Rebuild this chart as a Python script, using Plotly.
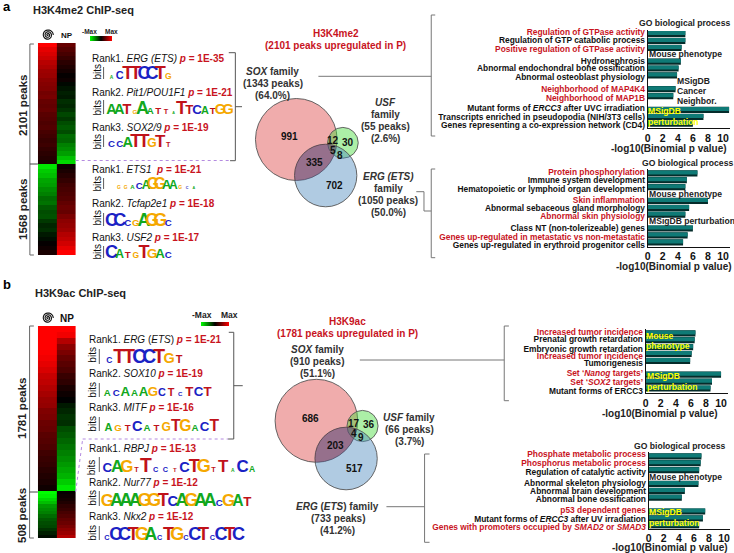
import math
import numpy as np
import plotly.graph_objects as go

W, H = 734, 553
RED = "#c8141e"
FONT = "Liberation Sans"
DARK = "#222222"
GREY = "#777777"
PURPLE = "#b48be0"
YEL = "#ffff00"

# ---------- heatmap data (signal, -1 = green, +1 = red), top row first ----------
a_peaks = [2101, 1568]
a_p_top = [1,.9,.85,.8,.72,.68,.62,.6,.55,.52,.5,.45,.47,.4,.38,.4,.35,.33,.3,.32,.28,.25,.22,.24,.2,.17,.14,.1]
a_np_top = [.4,.33,.28,.22,.17,.12,.08,.02,.05,-.03,-.08,-.12,-.1,-.18,-.15,-.2,-.28,-.22,-.3,-.35,-.3,-.42,-.4,-.5,-.55,-.62,-.75,-.85]
a_p_bot = [-.9,-.8,-.75,-.65,-.62,-.55,-.5,-.42,-.45,-.35,-.3,-.32,-.22,-.15,-.18,-.1,-.05,.02,.06,.1]
a_np_bot = [.05,.1,.15,.2,.25,.28,.3,.33,.38,.42,.4,.48,.55,.58,.62,.7,.75,.82,.9,1]
b_peaks = [1781, 508]
b_p_top = [1,1,1,1,.98,.95,.9,.85,.78,.75,.7,.65,.6,.58,.5,.48,.42,.4,.35,.33,.3,.25,.22,.2,.16,.13,.1,.06]
b_np_top = [1,.95,.7,.55,.48,.4,.35,.3,.22,.18,.1,.05,0,-.1,-.15,-.2,-.18,-.3,-.35,-.4,-.45,-.5,-.55,-.6,-.65,-.7,-.8,-.9]
b_p_bot = [-1,-.95,-.85,-.75,-.6,-.55,-.5,-.42,-.35,-.3,-.28,-.2,-.12,-.05]
b_np_bot = [.02,.05,.08,.12,.18,.22,.28,.32,.38,.42,.48,.55,.6,.7]
heat_columns = ["P", "NP"]

# ---------- enrichment bars ("" / None = gap between term groups) ----------
a1_terms = ["r|Regulation of GTPase activity", "Regulation of GTP catabolic process", "r|Positive regulation of GTPase activity", "",
            "Hydronephrosis", "Abnormal endochondral bone ossification", "Abnormal osteoblast physiology", "",
            "r|Neighborhood of MAP4K4", "r|Neighborhood of MAP1B", "",
            "Mutant forms of <i>ERCC3</i> after UVC irradiation", "Transcripts enriched in pseudopodia (NIH/3T3 cells)", "Genes representing a co-expression network (CD4)"]
a1_vals = [5.0, 5.0, 4.5, None, 4.4, 4.1, 3.9, None, 3.7, 3.4, None, 10.8, 7.4, 6.0]
a2_terms = ["r|Protein phosphorylation", "Immune system development", "Hematopoietic or lymphoid organ development", "",
            "r|Skin inflammation", "Abnormal sebaceous gland morphology", "r|Abnormal skin physiology", "",
            "Class NT (non-tolerizeable) genes", "r|Genes up-regulated in metastatic vs non-metastatic", "Genes up-regulated in erythroid progenitor cells"]
a2_vals = [6.6, 5.2, 5.0, None, 8.0, 5.5, 5.0, None, 6.0, 5.3, 4.7]
b1_terms = ["r|Increased tumor incidence", "Prenatal growth retardation", "Embryonic growth retardation", "r|Increased tumor incidence", "Tumorigenesis", "",
            "r|Set ‘<i>Nanog</i> targets’", "r|Set ‘<i>SOX2</i> targets’", "Mutant forms of ERCC3"]
b1_vals = [6.6, 6.5, 6.3, 6.1, 5.9, None, 10.0, 8.8, 8.6]
b2_terms = ["r|Phosphate metabolic process", "r|Phosphorus metabolic process", "Regulation of catalytic activity", "",
            "Abnormal skeleton physiology", "Abnormal brain development", "Abnormal bone ossification", "",
            "r|p53 dependent genes", "Mutant forms of <i>ERCC3</i> after UV irradiation", "r|Genes with promoters occupied by <i>SMAD2</i> or <i>SMAD3</i>"]
b2_vals = [7.0, 6.9, 6.7, None, 6.6, 4.8, 4.4, None, 7.5, 7.2, 6.7]
x_ticks = [0, 2, 4, 6, 8, 10]

# ---------- motif logos: letters and relative letter heights ----------
logo_a = [("ACTTCCTG", [2,7,13,13,13,13,13,5]),
          ("AATGAATTATTCATGG", [10,10,10,3,13,6,6,4,1,13,9,9,7,6,10,10]),
          ("CCATTGTT", [6,6,10,13,13,8,12,4]),
          ("GGACAGGAAGCA", [2,2,3,6,8,11,11,9,8,2,1,1]),
          ("CCCGAGGC", [13,13,6,6,13,13,13,6]),
          ("CATGTGAC", [13,8,6,5,13,9,9,6])]
logo_b = [("CTTCCTGT", [5,14,14,14,14,14,10,7]),
          ("ACAAAGCTCTCT", [6,6,9,6,9,9,7,7,3,9,9,9]),
          ("AGTCATGTGACT", [7,6,6,10,6,6,8,11,11,6,9,11]),
          ("CAGTTCCTCTGTTACA", [9,12,12,4,14,4,4,3,10,13,13,4,12,2,12,5]),
          ("GAAAGGTCAGAACGAT", [12,13,13,13,13,13,13,10,13,13,13,13,6,12,11,9]),
          ("CCCTGACTGCCTCCTC", [4,13,13,13,13,13,4,13,13,4,13,13,4,13,13,13])]
logo_colors = {"A": "#12a81e", "C": "#1a22c4", "G": "#f5a800", "T": "#c0121a"}

# rank labels
rank_a = [("Rank1. <i>ERG (ETS)</i>", "1E-35"), ("Rank2. <i>Pit1/POU1F1</i>", "1E-21"), ("Rank3. <i>SOX2/9</i>", "1E-19"),
          ("Rank1. <i>ETS1</i> ", "1E-21"), ("Rank2. <i>Tcfap2e1</i>", "1E-18"), ("Rank3. <i>USF2</i>", "1E-17")]
rank_b = [("Rank1. <i>ERG</i> (<i>ETS</i>)", "1E-21"), ("Rank2. <i>SOX10</i>", "1E-19"), ("Rank3. <i>MITF</i>", "1E-16"),
          ("Rank1. <i>RBPJ</i>", "1E-13"), ("Rank2. <i>Nur77</i>", "1E-12"), ("Rank3. <i>Nkx2</i>", "1E-12")]

# venn counts
venn_a = ["991", "12", "30", "5", "8", "335", "702"]
venn_b = ["686", "17", "36", "4", "9", "203", "517"]

# ---------- layout geometry (pixels) ----------
a1_label_px = [32, 40, 49, 61, 68.5, 76.7, 88.7, 98.3, 108.3, 116.7, 125]
a2_label_px = [172.3, 180.3, 189.3, 200, 207.7, 215.7, 228.3, 236.7, 244.7]
b1_label_px = [331.7, 339.3, 348.7, 355.7, 363.3, 373.3, 382.3, 391.3]
b2_label_px = [453.7, 463, 472, 482.7, 490.7, 499, 509.7, 518.7, 527.3]

def px(x): return x / W
def py(y): return 1 - y / H

fig = go.Figure()
layout = dict(
    width=W, height=H, margin=dict(l=0, r=0, t=0, b=0), showlegend=False,
    paper_bgcolor="white", plot_bgcolor="rgba(0,0,0,0)",
    font=dict(family=FONT, color=DARK),
    xaxis=dict(domain=[0, 1], range=[0, W], visible=False, fixedrange=True),
    yaxis=dict(domain=[0, 1], range=[H, 0], visible=False, fixedrange=True),
)
annotations, shapes = [], []
axis_no = [1]

def new_axes():
    axis_no[0] += 1
    return axis_no[0]

def note(x, y, text, size=9.5, color=DARK, bold=True, anchor="center", angle=0):
    annotations.append(dict(x=x, y=y, xref="x", yref="y", text=f"<b>{text}</b>" if bold else text,
                            showarrow=False, xanchor=anchor, yanchor="middle", textangle=angle,
                            font=dict(size=size, color=color, family=FONT), borderpad=0, borderwidth=0))

def seg(pts, color=GREY, width=1.0, dash=None):
    for (x0, y0), (x1, y1) in zip(pts[:-1], pts[1:]):
        shapes.append(dict(type="line", xref="x", yref="y", x0=x0, y0=y0, x1=x1, y1=y1,
                           line=dict(color=color, width=width, dash=dash or "solid")))

def heat(p_top, np_top, p_bot, np_bot, peaks, x0, x1, y0, y1, cb):
    n = new_axes()
    z = [list(r) for r in zip(p_top + p_bot, np_top + np_bot)]
    edges = list(np.linspace(0, peaks[0], len(p_top) + 1)) + list(np.linspace(peaks[0], sum(peaks), len(p_bot) + 1))[1:]
    fig.add_trace(go.Heatmap(z=z, x=heat_columns, y=edges, zmin=-1, zmax=1, xaxis=f"x{n}", yaxis=f"y{n}",
                             colorscale=[[0, "#00ff00"], [.5, "#000000"], [1, "#ff0000"]], hoverinfo="skip",
                             showscale=True,
                             colorbar=dict(orientation="h", x=px(cb[0]), y=py(cb[2]), xanchor="left", yanchor="top",
                                           len=cb[1] - cb[0], lenmode="pixels", thickness=cb[3] - cb[2],
                                           thicknessmode="pixels", showticklabels=False, ticks="", outlinewidth=0,
                                           xpad=0, ypad=0)))
    layout[f"xaxis{n}"] = dict(domain=[px(x0), px(x1)], visible=False, anchor=f"y{n}", fixedrange=True)
    layout[f"yaxis{n}"] = dict(domain=[py(y1), py(y0)], visible=False, anchor=f"x{n}", range=[sum(peaks), 0], fixedrange=True)

def bars(terms, vals, label_px, x0, x1, y0, bottom, s=6.9, scale=7.57, label_size=8.4):
    n = new_axes()
    idx = list(range(len(terms)))
    for color, w, off in (("#052c2b", .90, -.45), ("#0f7a76", .58, -.42)):
        fig.add_trace(go.Bar(x=vals, y=idx, orientation="h", width=w, offset=off, marker=dict(color=color, line_width=0),
                             xaxis=f"x{n}", yaxis=f"y{n}", hoverinfo="skip"))
    text = []
    for t in terms:
        if t.startswith("r|"):
            text.append(f"<span style='color:{RED}'><b>{t[2:]}</b></span>")
        elif t:
            text.append(f"<b>{t}</b>")
    top = y0 - .6 * s
    layout[f"xaxis{n}"] = dict(domain=[px(x0), px(x1)], range=[0, (x1 - x0) / scale], anchor=f"y{n}", tickvals=x_ticks,
                               tickfont=dict(size=10.5, color="#111111", weight="bold"), showgrid=False, zeroline=False,
                               showline=True, linecolor="#111111", linewidth=1, ticks="", fixedrange=True)
    layout[f"yaxis{n}"] = dict(domain=[py(bottom), py(top)], range=[(bottom - y0) / s, -.6], anchor=f"x{n}",
                               tickvals=[(p - y0) / s for p in label_px], ticktext=text,
                               tickfont=dict(size=label_size, color="#111111"), showgrid=False, zeroline=False,
                               showline=True, linecolor="#111111", linewidth=1, ticks="", fixedrange=True,
                               automargin=False)
    return n

def logo(rows, places):
    xs, ys, ts, sizes, cols = [], [], [], [], []
    for (letters, heights), (a, b, base) in zip(rows, places):
        pitch = (b - a) / len(letters)
        for i, (ch, h) in enumerate(zip(letters, heights)):
            size = h * 1.2 + 2.5
            xs.append(a + pitch * (i + .5)); ys.append(base + .24 * size)
            ts.append(f"<b>{ch}</b>"); sizes.append(size); cols.append(logo_colors[ch])
    fig.add_trace(go.Scatter(x=xs, y=ys, text=ts, mode="text", textposition="top center", hoverinfo="skip",
                             textfont=dict(size=sizes, color=cols, family="Liberation Sans Narrow, Liberation Sans"),
                             cliponaxis=False))

def spiral(cx, cy, r):
    ang = np.linspace(0, 6 * math.pi, 60)
    pts = [(cx + r * t / ang[-1] * math.cos(t), cy + r * t / ang[-1] * math.sin(t)) for t in ang]
    shapes.append(dict(type="path", xref="x", yref="y", line=dict(color="#111111", width=1.1),
                       path="M" + " L".join(f"{x:.2f},{y:.2f}" for x, y in pts)))

def circle(cx, cy, r, fill):
    shapes.append(dict(type="circle", xref="x", yref="y", x0=cx - r, x1=cx + r, y0=cy - r, y1=cy + r,
                       fillcolor=fill, line=dict(color="#555555", width=.9)))

def lens(c1, c2, fill):
    t = np.linspace(0, 2 * math.pi, 360)
    pts = []
    for (a, b) in ((c1, c2), (c2, c1)):
        for th in t:
            x, y = a[0] + a[2] * math.cos(th), a[1] + a[2] * math.sin(th)
            if (x - b[0]) ** 2 + (y - b[1]) ** 2 <= b[2] ** 2:
                pts.append((x, y))
    mx, my = np.mean([p[0] for p in pts]), np.mean([p[1] for p in pts])
    pts.sort(key=lambda p: math.atan2(p[1] - my, p[0] - mx))
    shapes.append(dict(type="path", xref="x", yref="y", fillcolor=fill, line=dict(width=0),
                       path="M" + " L".join(f"{x:.2f},{y:.2f}" for x, y in pts) + " Z"))

SOXC, USFC, ERGC = "rgba(222,70,70,0.45)", "rgba(70,220,60,0.45)", "rgba(80,140,190,0.45)"

# logos on the page-wide axes
logo(logo_a, [(105, 170, 79), (105, 230, 114), (105, 170, 146.7), (113, 195, 189.3), (105, 170, 226), (105, 170, 258.3)])
logo(logo_b, [(101.7, 181.7, 363.3), (100, 210, 396), (101, 217, 431), (100, 255, 471.7), (100, 250, 505.7), (100, 241, 540)])

# heatmaps
heat(a_p_top, a_np_top, a_p_bot, a_np_bot, a_peaks, 35, 73, 43, 255, (87, 109, 35.7, 40.7))
heat(b_p_top, b_np_top, b_p_bot, b_np_bot, b_peaks, 35, 73, 326, 538, (199, 227, 321.7, 326))

# bars
bars(a1_terms, a1_vals, a1_label_px, 647.3, 730, 34, 128)
bars(a2_terms, a2_vals, a2_label_px, 647.3, 730, 173.3, 246.7)
bars(b1_terms, b1_vals, b1_label_px, 645.3, 728, 333.3, 393.3)
bars(b2_terms, b2_vals, b2_label_px, 648.3, 730, 456.3, 528.7)

note(669, 148, "-log10(Binomial p value)", 10)
note(674, 266, "-log10(Binomial p value)", 10)
note(659.5, 413, "-log10(Binomial p value)", 10)
note(669.5, 547, "-log10(Binomial p value)", 10)

# overlay labels on bars
LS = 8.6
note(684, 23, "GO biological process", LS)
note(649, 54, "Mouse phenotype", LS, anchor="left")
note(677, 81, "MSigDB", LS, anchor="left")
note(677, 91, "Cancer", LS, anchor="left")
note(677, 101, "Neighbor.", LS, anchor="left")
note(648, 111, "MSigDB", LS, YEL, anchor="left")
note(648, 122, "perturbation", LS, YEL, anchor="left")
note(687, 163, "GO biological process", LS)
note(649, 194, "Mouse phenotype", LS, anchor="left")
note(649, 221, "MSigDB perturbation", LS, anchor="left")
note(646, 336, "Mouse", LS, YEL, anchor="left")
note(646, 346, "phenotype", LS, YEL, anchor="left")
note(647, 376, "MSigDB", LS, YEL, anchor="left")
note(647, 387, "perturbation", LS, YEL, anchor="left")
note(679, 446, "GO biological process", LS)
note(649, 477, "Mouse phenotype", LS, anchor="left")
note(649, 512, "MSigDB", LS, YEL, anchor="left")
note(649, 523, "perturbation", LS, YEL, anchor="left")

# headings
note(4, 6, "a", 13, "#000000")
note(4, 284, "b", 13, "#000000")
note(30, 10, "H3K4me2 ChIP-seq", 11, anchor="left")
note(32, 293, "H3K9ac ChIP-seq", 11, anchor="left")
note(64, 35, "NP", 8, "#111111")
note(64, 318, "NP", 10, "#111111")
spiral(45, 35, 5.5)
spiral(45, 318, 5.5)
note(87, 31, "-Max", 6.5)
note(109, 31, "Max", 6.5)
note(200, 315, "-Max", 8.5)
note(227.7, 315, "Max", 8.5)
note(20, 105, "2101 peaks", 11.5, angle=-90)
note(20, 209, "1568 peaks", 11.5, angle=-90)
note(19, 408, "1781 peaks", 11.5, angle=-90)
note(19, 515, "508 peaks", 11.5, angle=-90)

# rank labels + bits
for (name, p), y, by, bar_y in zip(rank_a, (58, 92, 127, 169.3, 203.3, 237.3), (72, 108, 142, 184, 218, 252),
                                   ((67, 79), (100, 114), (135, 147), (178, 189), (213, 226), (246, 258))):
    note(89, y, f"{name} <span style='color:{RED}'><b><i>p</i> = {p}</b></span>", 10, "#111111", bold=False, anchor="left")
    note(94, by, "bits", 10, "#111111", bold=False, angle=-90)
    seg([(101, bar_y[0]), (101, bar_y[1])], "#333333", .8)
for (name, p), y, by, bar_y in zip(rank_b, (339, 373.7, 407.7, 448.3, 482.3, 516.7), (355, 390, 424, 467.7, 498, 533),
                                   ((349, 364), (383, 397), (417, 431), (457, 472), (491, 506), (526, 540))):
    note(86.7, y, f"{name} <span style='color:{RED}'><b><i>p</i> = {p}</b></span>", 10, "#111111", bold=False, anchor="left")
    note(89, by, "bits", 10, "#111111", bold=False, angle=-90)
    seg([(96.7, bar_y[0]), (96.7, bar_y[1])], "#333333", .8)

# brackets
seg([(31, 44), (27, 44), (27, 255), (31, 255)], "#666666")
seg([(27, 164), (35, 164)], "#444444")
seg([(31, 326), (26.7, 326), (26.7, 538), (31, 538)], "#666666")
seg([(26.7, 492), (35, 492)], "#444444")
seg([(226.7, 52.7), (233.3, 52.7), (233.3, 160.7), (228, 160.7)], "#555555")
seg([(233.3, 106.7), (240, 106.7)], "#555555")
seg([(73, 160.5), (228, 160.5)], PURPLE, 1, "dot")
seg([(226.7, 332.3), (231.7, 332.3), (231.7, 439), (226, 439)], "#555555")
seg([(231.7, 385.7), (240.7, 385.7)], "#555555")
seg([(73, 491.7), (80, 439), (226, 439)], PURPLE, 1, "dot")
seg([(316.7, 76.3), (430, 76.3)], GREY)
seg([(434, 15), (430, 15), (430, 136), (434, 136)], GREY)
seg([(434, 169), (430, 169), (430, 257.7), (434, 257.7)], GREY)
seg([(430, 211), (422.7, 211), (422.7, 191.7), (415, 191.7)], GREY)
seg([(358.3, 360), (503.3, 360)], GREY)
seg([(508, 326), (503.3, 326), (503.3, 400.7), (508, 400.7)], GREY)
seg([(428.3, 454), (423.3, 454), (423.3, 542.3), (428.3, 542.3)], GREY)
seg([(385, 506.7), (423.3, 506.7)], GREY)

# venn a
S, U, E = (294.5, 139.5, 41), (341.3, 142.8, 15.4), (324, 175.5, 31.3)
circle(*S, SOXC); circle(*U, USFC); circle(*E, ERGC); lens(S, E, "rgba(110,10,50,0.3)")
for t, (x, y) in zip(venn_a, ((287.7, 136), (331.7, 140.7), (346.7, 142), (331.7, 150.7), (338.3, 155), (313, 162.3), (332.7, 185.3))):
    note(x, y, t, 10, "#111111")
note(334, 33, "H3K4me2", 10, RED)
note(334, 45.7, "(2101 peaks upregulated in P)", 10, RED)
for y, t in zip((71, 83, 95), ("<i>SOX</i> family", "(1343 peaks)", "(64.0%)")):
    note(271, y, t, 10, "#333333")
for y, t in zip((102, 114.6, 126.6, 138.6), ("<i>USF</i>", "family", "(55 peaks)", "(2.6%)")):
    note(384, y, t, 10, "#333333")
for y, t in zip((176.7, 188.7, 200.7, 212.7), ("<i>ERG (ETS)</i>", "family", "(1050 peaks)", "(50.0%)")):
    note(386.7, y, t, 10, "#333333")

# venn b
S, U, E = (314.7, 420.8, 41.5), (361, 426, 15.6), (344.5, 458.5, 31.3)
circle(*S, SOXC); circle(*U, USFC); circle(*E, ERGC); lens(S, E, "rgba(110,10,50,0.3)")
for t, (x, y) in zip(venn_b, ((308.3, 418.3), (352.3, 423.7), (367, 424.3), (352, 433.3), (359, 437.7), (333.7, 445), (353.3, 468.3))):
    note(x, y, t, 10, "#111111")
note(345.7, 321, "H3K9ac", 10, RED)
note(345.7, 333.3, "(1781 peaks upregulated in P)", 10, RED)
for y, t in zip((349, 361.3, 373.3), ("<i>SOX</i> family", "(910 peaks)", "(51.1%)")):
    note(315.3, y, t, 10, "#333333")
for y, t in zip((417.3, 429.3, 441.7), ("<i>USF</i> family", "(66 peaks)", "(3.7%)")):
    note(407.7, y, t, 10, "#333333")
for y, t in zip((506.7, 518.7, 530.7), ("<i>ERG</i> (<i>ETS</i>) family", "(733 peaks)", "(41.2%)")):
    note(336, y, t, 10, "#333333")

layout["annotations"] = annotations
layout["shapes"] = shapes
layout["barmode"] = "overlay"
fig.update_layout(**layout)
fig.write_html("out.html", config=dict(displayModeBar=False),
               post_script="document.body.style.margin='0';")
